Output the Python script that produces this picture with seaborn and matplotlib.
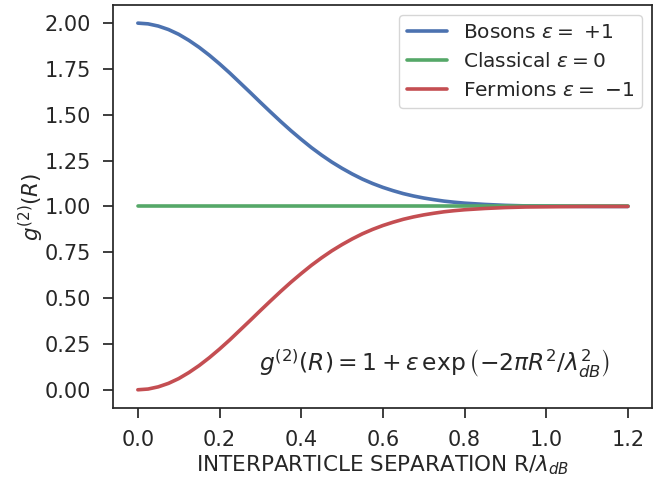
import matplotlib
matplotlib.use("Agg")
import matplotlib.pyplot as plt
import seaborn as sns
import pandas as pd

# Values
sep = [0.000, 0.025, 0.050, 0.075, 0.100, 0.125, 0.150, 0.175, 0.200,
       0.225, 0.250, 0.275, 0.300, 0.325, 0.350, 0.375, 0.400, 0.425,
       0.450, 0.475, 0.500, 0.525, 0.550, 0.575, 0.600, 0.625, 0.650,
       0.675, 0.700, 0.725, 0.750, 0.775, 0.800, 0.850, 0.900, 0.950,
       1.000, 1.050, 1.100, 1.150, 1.200]
bosons = [2.000, 1.996, 1.984, 1.965, 1.939, 1.906, 1.868, 1.825, 1.778,
          1.728, 1.675, 1.622, 1.568, 1.515, 1.463, 1.413, 1.366, 1.321,
          1.280, 1.242, 1.208, 1.177, 1.149, 1.125, 1.104, 1.086, 1.070,
          1.057, 1.046, 1.037, 1.029, 1.023, 1.018, 1.011, 1.006, 1.003,
          1.002, 1.001, 1.000, 1.000, 1.000]
classical = [1.000] * 41
fermions = [0.000, 0.004, 0.016, 0.035, 0.061, 0.094, 0.132, 0.175, 0.222,
            0.272, 0.325, 0.378, 0.432, 0.485, 0.537, 0.587, 0.634, 0.679,
            0.720, 0.758, 0.792, 0.823, 0.851, 0.875, 0.896, 0.914, 0.930,
            0.943, 0.954, 0.963, 0.971, 0.977, 0.982, 0.989, 0.994, 0.997,
            0.998, 0.999, 1.000, 1.000, 1.000]
labels = [r"Bosons $\varepsilon =$ +1",
          r"Classical $\varepsilon = 0$",
          r"Fermions $\varepsilon =$ $-$1"]

sns.set_theme(style="ticks")
plt.rcParams["font.family"] = ["DejaVu Sans"]

fig, ax = plt.subplots(figsize=(6.59, 4.79), dpi=100)

colors = ["#4C72B0", "#55A868", "#C44E52"]
for vals, lab, col in zip([bosons, classical, fermions], labels, colors):
    df = pd.DataFrame({"R": sep, "g2": vals})
    sns.lineplot(data=df, x="R", y="g2", color=col, linewidth=2.6,
                 label=lab, ax=ax)

ax.set_xticks([0.0, 0.2, 0.4, 0.6, 0.8, 1.0, 1.2])
ax.set_yticks([0.0, 0.25, 0.5, 0.75, 1.0, 1.25, 1.5, 1.75, 2.0])
ax.yaxis.set_major_formatter(matplotlib.ticker.FormatStrFormatter("%.2f"))
ax.tick_params(labelsize=15, length=7, width=1.25, pad=9, colors="#262626")
for spine in ax.spines.values():
    spine.set_color("#262626")
    spine.set_linewidth(1.25)

ax.set_xlabel(r"INTERPARTICLE SEPARATION R/$\lambda_{dB}$", fontsize=15.5,
              color="#262626", labelpad=2)
ax.set_ylabel(r"$g^{(2)}(R)$", fontsize=15.5, color="#262626", labelpad=-1)

ax.text(0.725, 0.14,
        r"$g^{(2)}(R) = 1 + \varepsilon\,\exp\left(-2\pi R^2/\lambda_{dB}^2\right)$",
        fontsize=16.8, ha="center", va="center", color="#262626")

leg = ax.legend(loc="upper right", fontsize=14.5, handlelength=2.0)

fig.subplots_adjust(left=0.172, right=0.99, top=0.99, bottom=0.148)
plt.savefig("out.png", dpi=100)
plt.close()
